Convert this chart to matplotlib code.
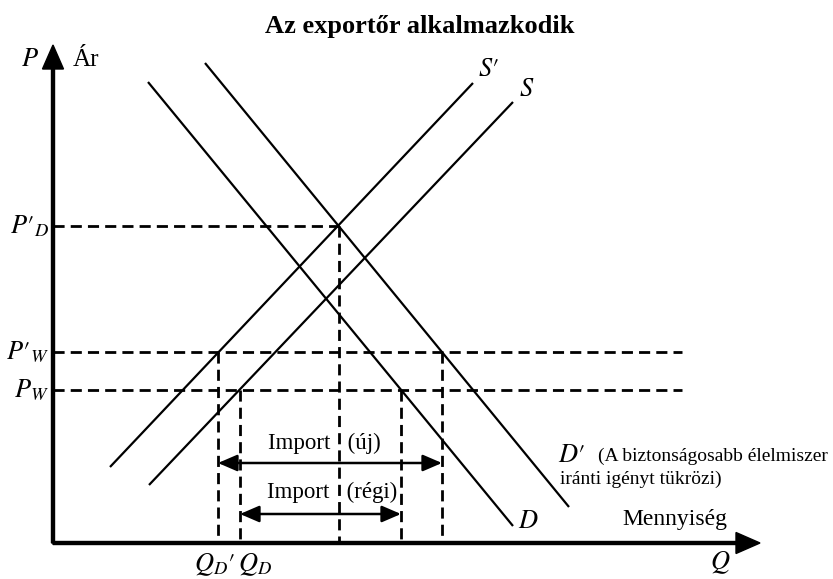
import matplotlib
matplotlib.use("Agg")
import matplotlib.pyplot as plt

plt.rcParams['font.family'] = ['Liberation Serif', 'DejaVu Serif']
plt.rcParams['mathtext.fontset'] = 'stix'

# price levels
p_world = 153       # P_W
p_world_new = 191   # P'_W
p_dom_new = 317     # P'_D

# quantities on the Q axis
q_dom_new = 165     # Q_D'
q_dom = 187         # Q_D
q_eq_new = 286      # S' x D'
q_imp_old_end = 348 # D at P_W
q_imp_new_end = 389 # D' at P'_W

# supply / demand curves (end points)
s_new_q, s_new_p = [57, 420], [76, 460]
s_q, s_p = [96, 460], [58, 441]
d_q, d_p = [95, 460], [461, 17]
d_new_q, d_new_p = [152, 516], [480, 36]

y_top = 498
x_right = 707
h_line_end = 629

fig = plt.figure(figsize=(8.33, 5.79), dpi=100)
ax = fig.add_axes([0, 0, 1, 1])
ax.set_xlim(-53, 780)
ax.set_ylim(-36, 543)
ax.axis('off')

# axes with arrow heads
ax.arrow(0, 0, 0, y_top, width=3, head_width=21, head_length=24,
         length_includes_head=True, color='black', zorder=5)
ax.arrow(0, 0, x_right, 0, width=3, head_width=21, head_length=24,
         length_includes_head=True, color='black', zorder=5)

# curves
for q, p in [(s_new_q, s_new_p), (s_q, s_p), (d_q, d_p), (d_new_q, d_new_p)]:
    ax.plot(q, p, color='black', lw=1.6, solid_capstyle='butt')

dash = dict(color='black', lw=2, linestyle=(0, (4, 2.2)))

# horizontal price lines
ax.plot([0, q_eq_new], [p_dom_new, p_dom_new], **dash)
ax.plot([0, h_line_end], [p_world_new, p_world_new], **dash)
ax.plot([0, h_line_end], [p_world, p_world], **dash)

# vertical drop lines
ax.plot([q_dom_new, q_dom_new], [p_world_new, 0], **dash)
ax.plot([q_dom, q_dom], [p_world, 0], **dash)
ax.plot([q_eq_new, q_eq_new], [p_dom_new, 0], **dash)
ax.plot([q_imp_old_end, q_imp_old_end], [p_world, 0], **dash)
ax.plot([q_imp_new_end, q_imp_new_end], [p_world_new, 0], **dash)

# import arrows
arr = dict(arrowstyle='<|-|>,head_length=0.65,head_width=0.28', color='black',
           lw=1.8, shrinkA=0, shrinkB=0, mutation_scale=18)
ax.annotate('', xy=(q_imp_new_end, 80), xytext=(q_dom_new, 80), arrowprops=arr)
ax.annotate('', xy=(q_imp_old_end, 29), xytext=(q_dom, 29), arrowprops=arr)
ax.text(271, 100, 'Import   (új)', ha='center', va='center', fontsize=16.5)
ax.text(279, 51, 'Import   (régi)', ha='center', va='center', fontsize=16.5)

# labels
ax.text(367, 516, 'Az exportőr alkalmazkodik', ha='center', va='center',
        fontsize=19, fontweight='bold')
ax.text(-23, 483, '$P$', ha='center', va='center', fontsize=19)
ax.text(20, 483, 'Ár', ha='left', va='center', fontsize=18)
ax.text(-4, p_dom_new, r"$P\prime_D$", ha='right', va='center', fontsize=19)
ax.text(-4, p_world_new, r"$P\prime_W$", ha='right', va='center', fontsize=19)
ax.text(-4, p_world, "$P_W$", ha='right', va='center', fontsize=19)
ax.text(q_dom_new - 3, -22, r"$Q_D\prime$", ha='center', va='center', fontsize=19)
ax.text(q_dom + 15, -22, "$Q_D$", ha='center', va='center', fontsize=19)
ax.text(667, -20, '$Q$', ha='center', va='center', fontsize=19)
ax.text(622, 23, 'Mennyiség', ha='center', va='center', fontsize=17)
ax.text(435, 473, r"$S\prime$", ha='center', va='center', fontsize=19)
ax.text(474, 453, '$S$', ha='center', va='center', fontsize=19)
ax.text(475, 21, '$D$', ha='center', va='center', fontsize=19)
ax.text(505, 87, r"$D\prime$", ha='left', va='center', fontsize=19)
ax.text(545, 87, '(A biztonságosabb élelmiszer', ha='left', va='center', fontsize=14)
ax.text(507, 64, 'iránti igényt tükrözi)', ha='left', va='center', fontsize=14)

fig.savefig('out.png', dpi=100)
